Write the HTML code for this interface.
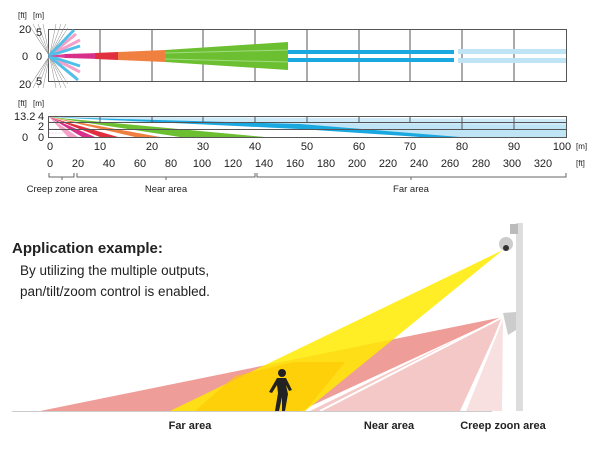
<!DOCTYPE html>
<html><head><style>
body{margin:0;background:#fff;width:600px;height:450px;overflow:hidden}
svg{display:block}
text{font-family:"Liberation Sans",sans-serif;fill:#222}
</style></head><body>
<svg width="600" height="450" viewBox="0 0 600 450">
<!-- top chart -->
<g stroke="#555" stroke-width="1" fill="none">
<rect x="48.5" y="29.5" width="518" height="52"/>
<path d="M100 29v52M152 29v52M203 29v52M255 29v52M307 29v52M359 29v52M410 29v52M462 29v52M514 29v52"/>
</g>
<g stroke="#888" stroke-width="0.5">
<path d="M33 24L66 88M66 24L33 88M38 24L61 88M61 24L38 88M43 24L56 88M56 24L43 88M35 34L64 78M64 34L35 78M31 28L68 84M68 28L31 84"/>
</g>
<g stroke="#f4a0c8" stroke-width="3"><path d="M49 56L76 34M49 56L80 40M49 56L76 78M49 56L80 72"/></g>
<g stroke="#50c0e8" stroke-width="3"><path d="M49 56L80 46M49 56L80 66M49 56L78 80M49 56L74 30"/></g>
<polygon points="49,56 65,54 65,58" fill="#e04090"/>
<polygon points="65,54 100,53 100,59 65,58" fill="#d8308a"/>
<polygon points="95,53 118,52 118,60 95,59" fill="#e03040"/>
<polygon points="118,52 165,50 165,62 118,60" fill="#f08040"/>
<polygon points="165,50 288,42 288,70 165,62" fill="#6cbf30"/>
<path d="M165 53L288 50M165 59L288 62" stroke="#a0dc80" stroke-width="1"/>
<rect x="288" y="50" width="166" height="4" fill="#1aa8e0"/>
<rect x="288" y="58" width="166" height="4" fill="#1aa8e0"/>
<rect x="458" y="49" width="108" height="5" fill="#bfe4f6"/>
<rect x="458" y="58" width="108" height="5" fill="#bfe4f6"/>
<text x="18" y="18" font-size="8">[ft]</text><text x="33" y="18" font-size="8">[m]</text>
<text x="19" y="33" font-size="11">20</text><text x="36" y="36" font-size="11">5</text>
<text x="22" y="60" font-size="11">0</text><text x="36" y="60" font-size="11">0</text>
<text x="19" y="88" font-size="11">20</text><text x="36" y="85" font-size="11">5</text>
<!-- bottom chart -->
<polygon points="49,117 566,119 566,137 460,137" fill="#bfe4f6"/>
<polygon points="49,117 566,119 566,125 150,123" fill="#cdeaf8"/>
<polygon points="49,117 300,124 460,137 420,137 300,129" fill="#1aa8e0"/>
<polygon points="49,117 265,137 180,137" fill="#6cbf30"/>
<polygon points="49,117 160,137 135,137" fill="#f08040"/>
<polygon points="49,117 118,137 100,137" fill="#e03040"/>
<polygon points="49,117 95,137 82,137" fill="#d8308a"/>
<polygon points="49,117 78,137 68,137" fill="#f4a0c8"/>
<g stroke="#e8b0c8" stroke-width="0.6" stroke-dasharray="2,1"><path d="M49 122h20M49 129h20M49 133h20"/></g>
<g stroke="#555" stroke-width="1" fill="none">
<rect x="48.5" y="116.5" width="518" height="21"/>
<path d="M48 122.5h518M48 129.5h518M100 116v6M152 116v6M203 116v6M255 116v6M307 116v6M359 116v6M410 116v6M462 116v13M514 116v13"/>
</g>
<text x="18" y="106" font-size="8">[ft]</text><text x="33" y="106" font-size="8">[m]</text>
<text x="14" y="120" font-size="11">13.2</text><text x="38" y="120" font-size="11">4</text>
<text x="38" y="130" font-size="11">2</text>
<text x="22" y="141" font-size="11">0</text><text x="38" y="141" font-size="11">0</text>
<g font-size="11" text-anchor="middle">
<text x="50" y="150">0</text><text x="100" y="150">10</text><text x="152" y="150">20</text><text x="203" y="150">30</text><text x="255" y="150">40</text><text x="307" y="150">50</text><text x="359" y="150">60</text><text x="410" y="150">70</text><text x="462" y="150">80</text><text x="514" y="150">90</text><text x="562" y="150">100</text>
<text x="50" y="167">0</text><text x="78" y="167">20</text><text x="109" y="167">40</text><text x="140" y="167">60</text><text x="171" y="167">80</text><text x="202" y="167">100</text><text x="233" y="167">120</text><text x="264" y="167">140</text><text x="295" y="167">160</text><text x="326" y="167">180</text><text x="357" y="167">200</text><text x="388" y="167">220</text><text x="419" y="167">240</text><text x="450" y="167">260</text><text x="481" y="167">280</text><text x="512" y="167">300</text><text x="543" y="167">320</text>
</g>
<text x="576" y="149" font-size="8">[m]</text><text x="576" y="166" font-size="8">[ft]</text>
<g stroke="#666" fill="none"><path d="M49 173v4h25v-4M62 177v3M77 173v4h178v-4M166 177v3M257 173v4h309v-4M411 177v3"/></g>
<g font-size="9.5" text-anchor="middle"><text x="62" y="192">Creep zone area</text><text x="166" y="192">Near area</text><text x="411" y="192">Far area</text></g>
<!-- application -->
<text x="12" y="253" font-size="15" font-weight="bold">Application example:</text>
<text x="20" y="275" font-size="13.5">By utilizing the multiple outputs,</text>
<text x="20" y="296" font-size="13.5">pan/tilt/zoom control is enabled.</text>
<rect x="516" y="223" width="7" height="188" fill="#ddd"/>
<polygon points="503,317 40,411 300,411" fill="#ef9d99"/>
<polygon points="503,317 310,411 460,411" fill="#f5c8c8"/>
<polygon points="503,317 465,411 502,411" fill="#f8e0e0"/>
<polygon points="503,250 170,411 305,411" fill="#ffea00" opacity="0.85"/>
<polygon points="294,362 235,376 195,411 305,411 345,362" fill="#ffc600" opacity="0.6"/>
<path d="M503 317L320 411" stroke="#fff" stroke-width="2"/>
<path d="M503 317L465 411" stroke="#fff" stroke-width="2"/>
<g fill="#222"><circle cx="282" cy="373" r="4"/><path d="M277 378h9l6 12l-3 1l-3-6l2 9l-3 17h-3l0-14l-3 14h-4l3-18l-1-8l-5 8l-3-1z"/></g>
<circle cx="506" cy="244" r="7" fill="#ccc"/><circle cx="506" cy="248" r="3" fill="#333"/>
<rect x="510" y="224" width="8" height="10" fill="#bbb"/>
<polygon points="503,313 516,312 516,330 508,335" fill="#ccc"/>
<line x1="12" y1="411.5" x2="492" y2="411.5" stroke="#ccc" stroke-width="1"/>
<g font-size="11" font-weight="bold" text-anchor="middle"><text x="190" y="429">Far area</text><text x="389" y="429">Near area</text><text x="503" y="429">Creep zoon area</text></g>
</svg>
</body></html>
